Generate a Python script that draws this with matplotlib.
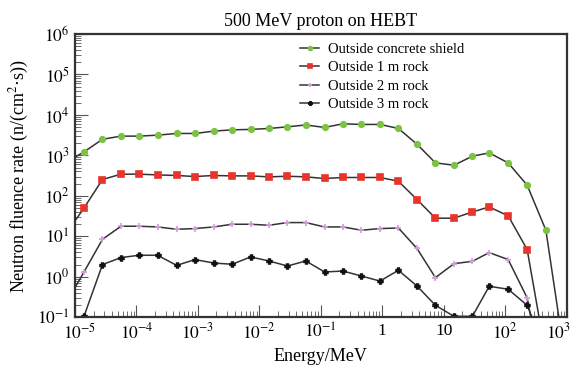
import matplotlib
matplotlib.use("Agg")
import matplotlib.pyplot as plt
import matplotlib.transforms as mtransforms
from matplotlib.ticker import LogLocator, NullFormatter

plt.rcParams['font.family'] = ['Liberation Serif', 'DejaVu Serif']
plt.rcParams['mathtext.fontset'] = 'stix'

# energy bins (MeV); first and last points sit outside the axes
energy = [7e-6, 1.4e-5, 2.8e-5, 5.6e-5, 1.1e-4, 2.2e-4, 4.5e-4, 9e-4, 1.8e-3, 3.6e-3,
          7.2e-3, 1.43e-2, 2.87e-2, 5.7e-2, 0.115, 0.229, 0.458, 0.917, 1.83, 3.67,
          7.33, 14.7, 29.3, 55, 112, 228, 460, 938]

concrete = [660, 1220, 2500, 2990, 2990, 3160, 3480, 3480, 3970, 4280, 4380, 4630, 5080,
            5650, 4900, 6030, 5820, 5820, 4630, 1890, 652, 571, 955, 1150, 652, 183, 14.1, 0.01]
rock1 = [11, 50, 253, 343, 343, 329, 318, 300, 318, 311, 311, 294, 305,
         294, 268, 284, 284, 284, 230, 81, 28, 28, 40, 53, 32, 4.7, 0.011, 1e-4]
rock2 = [0.21, 1.31, 8.4, 17.7, 17.7, 17.0, 14.9, 15.5, 17.0, 19.8, 19.8, 18.7, 21.8,
         21.8, 17.0, 17.0, 14.1, 15.5, 16.0, 5.0, 0.95, 2.1, 2.4, 3.95, 2.65, 0.30, 0.001, 1e-5]
rock3 = [0.001, 0.105, 2.0, 2.97, 3.39, 3.39, 1.91, 2.65, 2.18, 2.03, 3.08, 2.45, 1.84,
         2.45, 1.31, 1.38, 1.04, 0.78, 1.44, 0.59, 0.196, 0.105, 0.105, 0.58, 0.49, 0.196, 0.015, 1e-5]

series = [
    ("Outside concrete shield", concrete, 'o', '#7dc243', 4),
    ("Outside 1 m rock", rock1, 's', '#e8342a', 4),
    ("Outside 2 m rock", rock2, '+', '#d59ad8', 4),
    ("Outside 3 m rock", rock3, 'P', '#111111', 3.5),
]

x_ticks = [1e-5, 1e-4, 1e-3, 1e-2, 1e-1, 1, 10, 1e2, 1e3]
x_labels = ['$10^{-5}$', '$10^{-4}$', '$10^{-3}$', '$10^{-2}$', '$10^{-1}$',
            '1', '10', '$10^{2}$', '$10^{3}$']
y_ticks = [1e-1, 1, 10, 1e2, 1e3, 1e4, 1e5, 1e6]
y_labels = ['$10^{-1}$', '$10^{0}$', '$10^{1}$', '$10^{2}$', '$10^{3}$',
            '$10^{4}$', '$10^{5}$', '$10^{6}$']

fig = plt.figure(figsize=(5.77, 3.74), dpi=100)
ax = fig.add_axes([0.130, 0.152, 0.852, 0.757])

for label, vals, mk, col, ms in series:
    ax.plot(energy, vals, color='#333333', lw=1.1, marker=mk, ms=ms,
            mfc=col, mec=col, mew=1.2, label=label)

ax.set_xscale('log')
ax.set_yscale('log')
ax.set_xlim(1e-5, 1e3)
ax.set_ylim(1e-1, 1e6)

ax.set_xticks(x_ticks)
ax.set_xticklabels(x_labels)
ax.set_yticks(y_ticks)
ax.set_yticklabels(y_labels)
ax.xaxis.set_minor_locator(LogLocator(base=10, subs=range(2, 10), numticks=20))
ax.yaxis.set_minor_locator(LogLocator(base=10, subs=range(2, 10), numticks=20))
ax.xaxis.set_minor_formatter(NullFormatter())
ax.yaxis.set_minor_formatter(NullFormatter())
ax.tick_params(which='both', direction='in', top=False, right=False,
               labelsize=12.5, color='#555555')
ax.tick_params(which='major', length=9, width=0.8, pad=4)
ax.tick_params(which='minor', length=4, width=0.6)

# keep the outer tick labels inside the figure and apart from each other
shift_left = mtransforms.ScaledTranslation(-6 / 72, 0, fig.dpi_scale_trans)
shift_right = mtransforms.ScaledTranslation(3 / 72, 0, fig.dpi_scale_trans)
xt = ax.get_xticklabels()
xt[-1].set_transform(xt[-1].get_transform() + shift_left)
xt[0].set_transform(xt[0].get_transform() + shift_right)

for sp in ax.spines.values():
    sp.set_linewidth(1.6)
    sp.set_color('#333333')

ax.set_title("500 MeV proton on HEBT", fontsize=13, pad=6)
ax.set_xlabel("Energy/MeV", fontsize=13, labelpad=4)
ax.set_ylabel("Neutron fluence rate (n/(cm$^2$·s))", fontsize=13, labelpad=4)

ax.legend(loc='upper left', bbox_to_anchor=(0.44, 1.0), frameon=False,
          fontsize=10.5, handlelength=1.3, handletextpad=0.6,
          labelspacing=0.35, markerscale=0.7, borderaxespad=0.2)

fig.savefig("out.png", dpi=100)
